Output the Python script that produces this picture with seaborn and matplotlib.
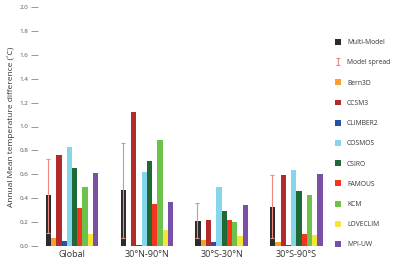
import pandas as pd
import matplotlib.pyplot as plt
import seaborn as sns
from matplotlib.patches import Patch

regions = ['Global', '30°N-90°N', '30°S-30°N', '30°S-90°S']
models = ['Multi-Model', 'Bern3D', 'CCSM3', 'CLIMBER2', 'COSMOS',
          'CSIRO', 'FAMOUS', 'KCM', 'LOVECLIM', 'MPI-UW']
colors = ['#2b2b2b', '#f7a12c', '#b22a2a', '#2a4fa8', '#85d6ea',
          '#1f6a34', '#f4361e', '#6cc24a', '#f5e43a', '#7a4fa6']

# values per model, in region order
multi_model = [0.43, 0.47, 0.21, 0.33]
bern3d = [0.07, 0.0, 0.05, 0.03]
ccsm3 = [0.76, 1.12, 0.22, 0.59]
climber2 = [0.04, 0.01, 0.03, 0.01]
cosmos = [0.83, 0.62, 0.49, 0.64]
csiro = [0.65, 0.71, 0.29, 0.46]
famous = [0.32, 0.35, 0.22, 0.10]
kcm = [0.49, 0.89, 0.20, 0.43]
loveclim = [0.10, 0.13, 0.08, 0.09]
mpi_uw = [0.61, 0.37, 0.34, 0.60]

spread_low = [0.11, 0.07, 0.07, 0.07]
spread_high = [0.73, 0.86, 0.36, 0.59]

series = [multi_model, bern3d, ccsm3, climber2, cosmos,
          csiro, famous, kcm, loveclim, mpi_uw]
rows = []
for m, vals in zip(models, series):
    for r, v in zip(regions, vals):
        rows.append({'Region': r, 'Model': m, 'Value': v})
df = pd.DataFrame(rows)

sns.set_theme(style="white")
plt.rcParams['font.family'] = ['Open Sans', 'DejaVu Sans']

fig = plt.figure(figsize=(3.93, 2.62), dpi=100)
ax = fig.add_axes([38 / 393, 16 / 262, 292 / 393, 239 / 262])

sns.barplot(data=df, x='Region', y='Value', hue='Model', order=regions,
            hue_order=models, palette=colors, width=0.7, saturation=1,
            linewidth=0, edgecolor='none', ax=ax, legend=False)

# model spread drawn over the multi-model bars
mm_bars = ax.containers[0]
xs = [b.get_x() + b.get_width() * 0.4 for b in mm_bars]
mids = [(lo + hi) / 2 for lo, hi in zip(spread_low, spread_high)]
half = [(hi - lo) / 2 for lo, hi in zip(spread_low, spread_high)]
eb = ax.errorbar(xs, mids, yerr=half, fmt='none', ecolor='#ec8a80',
                 elinewidth=0.8, capsize=1.5, capthick=0.8, label='Model spread')

ax.set_xlim(-0.455, 3.45)
ax.set_ylim(0, 2.0)
ax.set_yticks([0.0, 0.2, 0.4, 0.6, 0.8, 1.0, 1.2, 1.4, 1.6, 1.8, 2.0])
ax.set_yticklabels([f'{t:.1f}' for t in ax.get_yticks()])
for s in ax.spines.values():
    s.set_visible(False)
ax.tick_params(axis='y', which='both', left=True, length=5, width=0.6,
               color='#888888', labelsize=4.5, labelcolor='#555555', pad=2)
ax.tick_params(axis='x', bottom=False, length=0, labelsize=6.5,
               labelcolor='#333333', pad=3)
ax.set_xlabel('')
ax.set_ylabel('Annual Mean temperature difference (˚C)', fontsize=6,
              color='#333333', labelpad=3)

handles = [Patch(facecolor=colors[0], edgecolor='none'), eb] + \
    [Patch(facecolor=c, edgecolor='none') for c in colors[1:]]
labels = ['Multi-Model', 'Model spread'] + models[1:]
fig.legend(handles, labels, loc='upper left', bbox_to_anchor=(335 / 393, 1 - 39 / 262),
           frameon=False, fontsize=4.9, labelspacing=1.9, handlelength=0.95,
           handleheight=0.95, handletextpad=0.8, borderaxespad=0, borderpad=0,
           labelcolor='#333333')

plt.savefig('out.png', dpi=100)
